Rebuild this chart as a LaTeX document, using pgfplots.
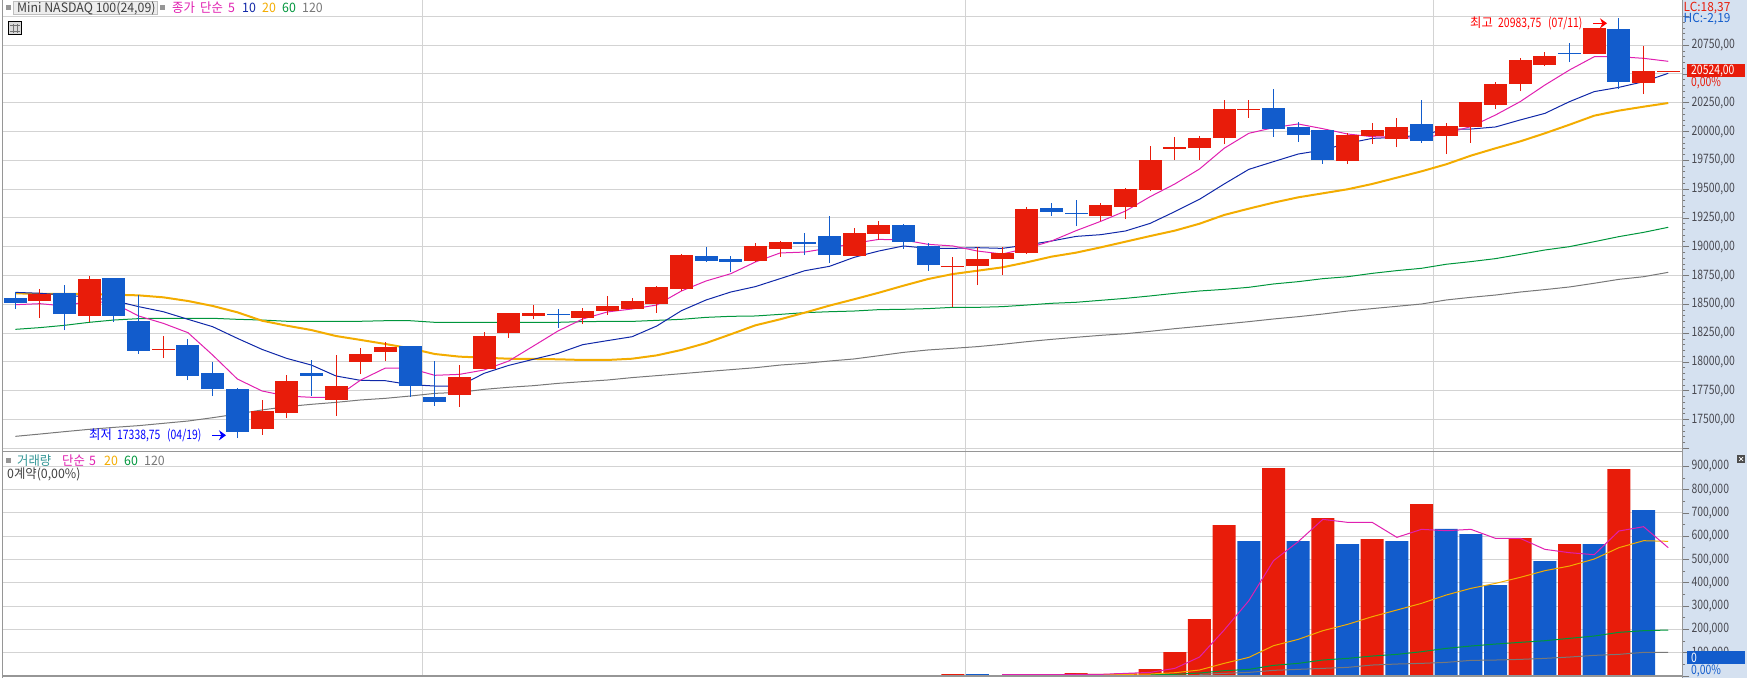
\documentclass[border=0pt]{standalone}
\usepackage{fontspec}
\setmainfont[FakeStretch=0.95]{Noto Sans CJK KR}
\newfontfamily\tickf[FakeStretch=0.8]{Noto Sans CJK KR}
\usepackage{pgfplots}
\usepackage{pgfplotstable}
\pgfplotsset{compat=1.18}
\usetikzlibrary{arrows.meta}

\definecolor{upred}{RGB}{232,28,10}
\definecolor{dnblue}{RGB}{18,92,204}
\definecolor{ma5}{RGB}{224,32,176}
\definecolor{ma10}{RGB}{16,40,168}
\definecolor{ma20}{RGB}{243,172,0}
\definecolor{ma60}{RGB}{0,150,60}
\definecolor{ma120}{RGB}{120,120,120}
\definecolor{gridc}{RGB}{211,211,211}
\definecolor{strip}{RGB}{213,225,240}
\definecolor{frame}{RGB}{150,150,150}
\definecolor{labc}{RGB}{72,72,80}
\definecolor{volc}{RGB}{50,150,150}

% candles: i high low bodytop bodybottom
\pgfplotstableread{
i hi lo top bot
1 18633 18382 18593 18529
3 18746 18347 18720 18399
6 18225 18034 18112 18107
10 17670 17366 17574 17418
11 17887 17513 17835 17557
13 18060 17531 17791 17670
14 18121 17895 18069 18000
15 18173 18008 18130 18086
18 17973 17609 17869 17713
19 18260 17939 18225 17939
20 18425 18208 18425 18251
21 18494 18373 18425 18399
23 18468 18329 18442 18382
24 18573 18408 18486 18442
25 18555 18460 18529 18460
26 18659 18425 18651 18503
27 18937 18616 18928 18633
30 19033 18868 19007 18876
31 19050 18911 19041 18981
34 19163 18920 19120 18920
35 19224 19059 19189 19111
38 18911 18477 18833 18824
39 18998 18668 18894 18833
40 18998 18755 18946 18894
41 19345 18937 19328 18946
44 19380 19224 19363 19267
45 19510 19241 19502 19345
46 19875 19484 19753 19493
47 19953 19753 19866 19849
48 19962 19753 19944 19857
49 20274 19892 20196 19944
50 20274 20118 20196 20187
54 19988 19719 19970 19745
55 20075 19892 20014 19962
56 20118 19866 20040 19936
58 20075 19805 20049 19962
59 20257 19901 20257 20040
60 20431 20196 20413 20231
61 20639 20352 20622 20413
62 20691 20569 20656 20578
64 20899 20674 20899 20674
66 20743 20326 20526 20422
67 20526 20520 20526 20520
}\redc
\pgfplotstableread{
i hi lo top bot
0 18607 18463 18555 18512
2 18668 18277 18599 18416
4 18729 18347 18729 18399
5 18581 18069 18355 18095
7 18199 17843 18147 17878
8 18000 17704 17904 17765
9 17774 17338.75 17765 17392
12 18017 17704 17904 17878
16 18138 17696 18138 17791
17 18008 17618 17696 17652
22 18460 18295 18416 18408
28 18998 18868 18920 18876
29 18920 18781 18894 18868
32 19120 18928 19041 19024
33 19267 18859 19093 18928
36 19198 18981 19189 19041
37 19033 18790 19007 18842
42 19380 19267 19337 19302
43 19406 19180 19293 19284
51 20370 19953 20205 20022
52 20083 19910 20040 19970
53 20014 19719 20014 19753
57 20274 19901 20066 19918
63 20769 20604 20682 20674
65 20983.75 20370 20891 20431
}\bluec

% moving averages of the close
\pgfplotstableread{
i m5 m10 m20 m60 m120
0 18497 18604 18596 18283 17354
1 18506 18596 18590 18298 17374
2 18486 18581 18590 18318 17395
3 18529 18561 18590 18344 17415
4 18509 18532 18584 18364 17432
5 18399 18480 18578 18376 17447
6 18335 18436 18561 18379 17467
7 18254 18370 18529 18379 17487
8 18060 18306 18486 18379 17516
9 17852 18205 18431 18370 17548
10 17748 18109 18358 18364 17583
11 17704 18031 18315 18353 17612
12 17693 17973 18277 18353 17632
13 17693 17878 18225 18353 17649
14 17843 17840 18191 18353 17670
15 17947 17837 18156 18358 17684
16 17944 17803 18118 18358 17704
17 17884 17791 18069 18344 17727
18 17892 17791 18046 18344 17736
19 17930 17901 18037 18344 17762
20 18008 17970 18028 18344 17780
21 18138 18023 18026 18344 17794
22 18269 18075 18023 18344 17814
23 18373 18150 18017 18350 17829
24 18434 18185 18017 18352 17843
25 18460 18219 18028 18352 17864
26 18494 18312 18057 18361 17881
27 18616 18445 18104 18370 17898
28 18703 18538 18164 18387 17916
29 18766 18607 18240 18396 17933
30 18868 18654 18318 18399 17950
31 18946 18723 18370 18413 17973
32 18954 18792 18428 18428 17988
33 18989 18830 18489 18436 18008
34 19030 18908 18544 18442 18026
35 19064 18963 18601 18454 18054
36 19059 19007 18662 18457 18083
37 19021 18986 18720 18463 18104
38 19007 18986 18763 18474 18118
39 18963 18992 18792 18474 18133
40 18937 18986 18821 18480 18153
41 18986 19015 18865 18494 18176
42 19050 19050 18914 18509 18196
43 19140 19090 18949 18518 18214
44 19221 19105 18995 18535 18231
45 19310 19137 19044 18552 18245
46 19435 19203 19093 18573 18266
47 19545 19305 19140 18596 18289
48 19675 19412 19200 18616 18309
49 19855 19545 19276 18630 18329
50 19985 19672 19331 18648 18350
51 20034 19739 19383 18677 18373
52 20066 19805 19429 18697 18393
53 20025 19840 19464 18723 18416
54 19979 19898 19499 18740 18442
55 19956 19941 19545 18769 18463
56 19950 19950 19600 18793 18483
57 19939 19970 19655 18813 18503
58 19985 20020 19716 18848 18538
59 20043 20022 19791 18871 18561
60 20144 20040 19855 18897 18581
61 20260 20101 19915 18934 18607
62 20404 20158 19985 18972 18628
63 20535 20260 20060 19001 18651
64 20650 20347 20138 19044 18683
65 20650 20384 20182 19088 18717
66 20636 20433 20216 19125 18740
67 20610 20506 20248 19169 18778
}\pricema

% volume bars
\pgfplotstableread{
i v
38 8600
40 4000
41 4000
43 12900
45 11000
46 30000
47 103000
48 244600
49 648000
51 892700
53 678000
55 588000
57 738000
61 592000
63 566500
65 888000
}\volred
\pgfplotstableread{
i v
0 2000
39 8600
42 4000
44 5000
50 579000
52 579000
54 566500
56 579000
58 631000
59 609000
60 390600
62 493600
64 566500
66 712000
67 3000
}\volblue
\pgfplotstableread{
i m5 m20 m60 m120
40 5700 nan nan nan
41 5700 nan nan nan
42 5700 nan nan nan
43 7200 7200 nan nan
44 7200 7200 nan nan
45 11400 7200 nan nan
46 15700 8600 7200 nan
47 32900 14300 7200 nan
48 81500 25800 12900 7200
49 197400 54400 22900 11400
50 323300 80100 28600 15700
51 495000 130200 45800 24300
52 576500 157400 54400 28600
53 672400 194600 68700 32900
54 659500 221700 75800 37200
55 659500 254700 85800 47200
56 595100 283300 93000 51500
57 629500 311900 104400 54400
58 623700 347600 118700 58700
59 629500 376200 128800 67200
60 590800 397700 137300 68700
61 590800 423500 144500 71500
62 543600 452100 151600 75800
63 529300 472100 161700 81500
64 520700 502100 171700 88700
65 622300 550800 187400 93000
66 640900 580800 194600 101600
67 550800 578000 197400 101600
}\volma

\newcommand{\lab}[4]{\node[anchor=base west,inner sep=0pt,text=#3,font=\fontsize{13}{13}\selectfont] at (#1pt,678pt-#2pt) {#4};}
\newcommand{\num}[4]{\node[anchor=base west,inner sep=0pt,text=#3,font=\tickf\fontsize{13}{13}\selectfont] at (#1pt,678pt-#2pt) {#4};}

\pgfplotsset{
  hts/.style={
    scale only axis, width=1679.3pt,
    xmin=-0.4986, xmax=67.57,
    xtick={16.5,38.5,57.5}, xticklabels={},
    x tick style={draw=none},
    xmajorgrids, ymajorgrids,
    major grid style={color=gridc,line width=1pt},
    axis line style={draw=none},
    ytick pos=right, yticklabel pos=right,
    tick align=outside,
    major tick length=7pt, minor tick length=3pt,
    y tick style={color=ma120,line width=0.8pt},
    scaled y ticks=false,
    yticklabel style={anchor=west,inner sep=0pt,xshift=2pt,text=labc,
      font=\tickf\fontsize{13}{13}\selectfont},
  },
  candle/.style n args={3}{
    draw=none, forget plot,
    error bars/.cd, y dir=plus, y explicit, error mark=none,
    error bar style={line width=#2,color=#1},
  },
}

\begin{document}
\begin{tikzpicture}[x=1pt,y=1pt]
\useasboundingbox (0pt,0pt) rectangle (1747pt,678pt);
\fill[strip] (1682.5pt,0pt) rectangle (1747pt,678pt);

% price pane
\begin{axis}[hts, at={(3pt,226.7pt)}, anchor=south west, height=451.3pt,
  ymin=17224.2, ymax=21142.4,
  ytick={17250,17500,...,21000}, minor y tick num=4,
  yticklabels={,{17500,00},{17750,00},{18000,00},{18250,00},{18500,00},{18750,00},{19000,00},{19250,00},{19500,00},{19750,00},{20000,00},{20250,00},,{20750,00},},
]
\addplot[ma120,line width=1pt,sharp plot] table[x=i,y=m120] {\pricema};
\addplot[ma60,line width=1pt,sharp plot] table[x=i,y=m60] {\pricema};
\addplot[ma20,line width=2pt,sharp plot] table[x=i,y=m20] {\pricema};
\addplot[ma10,line width=1pt,sharp plot] table[x=i,y=m10] {\pricema};
\addplot[ma5,line width=1pt,sharp plot] table[x=i,y=m5] {\pricema};
% wicks
\addplot[candle={upred}{1pt}{}] table[x=i,y=lo,y error expr=\thisrow{hi}-\thisrow{lo}] {\redc};
\addplot[candle={dnblue}{1pt}{}] table[x=i,y=lo,y error expr=\thisrow{hi}-\thisrow{lo}] {\bluec};
% bodies
\addplot[candle={upred}{23pt}{}] table[x=i,y=bot,y error expr=\thisrow{top}-\thisrow{bot}] {\redc};
\addplot[candle={dnblue}{23pt}{}] table[x=i,y=bot,y error expr=\thisrow{top}-\thisrow{bot}] {\bluec};
\end{axis}

% volume pane
\begin{axis}[hts, at={(3pt,1.5pt)}, anchor=south west, height=225.2pt,
  ymin=-2000, ymax=964400,
  ytick={0,100000,...,900000}, minor y tick num=1,
  yticklabels={,{100,000},{200,000},{300,000},{400,000},{500,000},{600,000},{700,000},{800,000},{900,000}},
]
\addplot[ybar,bar width=23pt,bar shift=0pt,fill=upred,draw=none] table[x=i,y=v] {\volred};
\addplot[ybar,bar width=23pt,bar shift=0pt,fill=dnblue,draw=none] table[x=i,y=v] {\volblue};
\addplot[ma120,line width=1pt,sharp plot] table[x=i,y=m120] {\volma};
\addplot[ma60,line width=1pt,sharp plot] table[x=i,y=m60] {\volma};
\addplot[ma20,line width=1pt,sharp plot] table[x=i,y=m20] {\volma};
\addplot[ma5,line width=1pt,sharp plot] table[x=i,y=m5] {\volma};
\end{axis}

% frame
\draw[frame,line width=1.5pt] (2.5pt,0pt) -- (2.5pt,678pt);
\draw[frame,line width=1pt] (1682.5pt,0pt) -- (1682.5pt,678pt);
\draw[frame,line width=1pt] (2pt,678pt-451.3pt) -- (1682.5pt,678pt-451.3pt);
\draw[frame,line width=1.2pt] (2pt,678pt-676pt) -- (1682.5pt,678pt-676pt);

% price pane header
\fill[frame] (6pt,678pt-5pt) rectangle (11pt,678pt-10pt);
\draw[fill=black!7,draw=black!25,line width=0.8pt] (13.5pt,678pt-1pt) rectangle (157pt,678pt-14.5pt);
\lab{17}{12.3}{black!75}{Mini NASDAQ 100(24,09)}
\fill[frame] (160pt,678pt-5pt) rectangle (165pt,678pt-10pt);
\lab{172}{12.3}{ma5}{종가}
\lab{200}{12.3}{ma5}{단순}
\lab{228}{12.3}{ma5}{5}
\lab{242}{12.3}{ma10}{10}
\lab{262}{12.3}{ma20}{20}
\lab{282}{12.3}{ma60}{60}
\lab{302}{12.3}{ma120}{120}
% table icon
\draw[black,line width=1pt,fill=black!15] (8.5pt,678pt-22pt) rectangle (21.5pt,678pt-34.5pt);
\draw[black!55,line width=0.7pt] (10pt,678pt-25pt) -- (20pt,678pt-25pt) (10pt,678pt-31pt) -- (20pt,678pt-31pt)
  (13pt,678pt-24pt) -- (13pt,678pt-33pt) (17pt,678pt-24pt) -- (17pt,678pt-33pt);

% high and low notes
\lab{89}{439.5}{blue}{최저}
\num{117}{439.5}{blue}{17338,75}
\num{167}{439.5}{blue}{(04/19)}
\draw[blue,line width=1pt,-{Stealth[length=7pt,width=10pt]}] (212pt,678pt-435.3pt) -- (226pt,678pt-435.3pt);
\lab{1470}{27.3}{red}{최고}
\num{1498}{27.3}{red}{20983,75}
\num{1548}{27.3}{red}{(07/11)}
\draw[red,line width=1pt,-{Stealth[length=7pt,width=10pt]}] (1593pt,678pt-23.3pt) -- (1607pt,678pt-23.3pt);

% strip texts
\node[anchor=base west,inner sep=0pt,text=upred,font=\fontsize{12.5}{12.5}\selectfont] at (1683.5pt,678pt-11.3pt) {LC:18,37};
\node[anchor=base west,inner sep=0pt,text=dnblue,font=\fontsize{12.5}{12.5}\selectfont] at (1683.5pt,678pt-23pt) {HC:-2,19};
\fill[upred] (1687pt,678pt-64pt) rectangle (1745pt,678pt-77pt);
\num{1691}{74.7}{white}{20524,00}
\num{1691}{86.7}{upred}{0,00\%}

% volume pane header
\fill[frame] (6pt,678pt-457.5pt) rectangle (11pt,678pt-462.5pt);
\lab{17}{465.3}{volc}{거래량}
\lab{62}{465.3}{ma5}{단순}
\lab{89}{465.3}{ma5}{5}
\lab{104}{465.3}{ma20}{20}
\lab{124}{465.3}{ma60}{60}
\lab{144}{465.3}{ma120}{120}
\lab{7}{478}{black!75}{0계약(0,00\%)}
\fill[dnblue] (1687pt,678pt-651pt) rectangle (1745pt,678pt-663.7pt);
\num{1691}{662}{white}{0}
\num{1691}{674.3}{dnblue}{0,00\%}
% small pane button
\fill[black!70] (1737pt,678pt-455pt) rectangle (1745pt,678pt-463pt);
\draw[white,line width=0.7pt] (1739pt,678pt-457pt) -- (1743pt,678pt-461pt) (1739pt,678pt-461pt) -- (1743pt,678pt-457pt);
\end{tikzpicture}
\end{document}
